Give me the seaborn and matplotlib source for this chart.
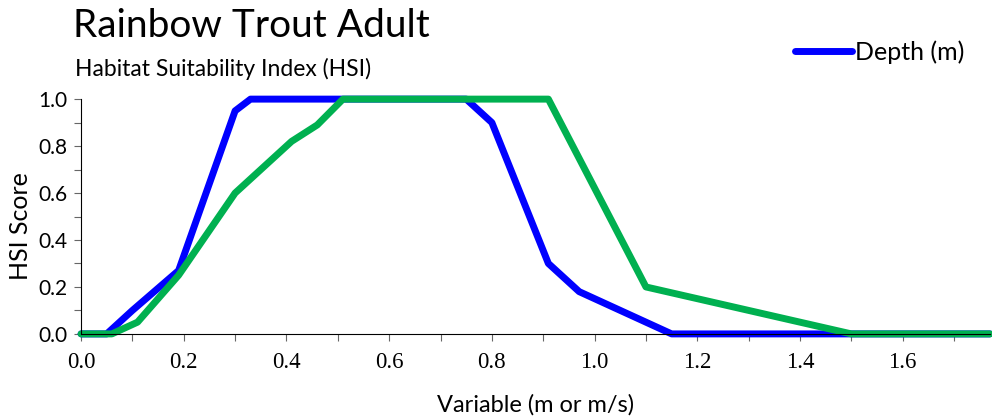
import numpy as np
import pandas as pd
import seaborn as sns
import matplotlib.pyplot as plt
from matplotlib.ticker import MultipleLocator

# HSI curves
depth_x = [0.0, 0.05, 0.10, 0.19, 0.30, 0.33, 0.75, 0.77, 0.80, 0.91, 0.97, 1.15, 1.77]
depth_y = [0.0, 0.0, 0.10, 0.27, 0.95, 1.0, 1.0, 0.96, 0.90, 0.30, 0.18, 0.0, 0.0]

vel_x = [0.0, 0.06, 0.11, 0.15, 0.19, 0.30, 0.41, 0.46, 0.51, 0.91, 1.10, 1.50, 1.77]
vel_y = [0.0, 0.0, 0.05, 0.15, 0.25, 0.60, 0.82, 0.89, 1.0, 1.0, 0.20, 0.0, 0.0]

df_depth = pd.DataFrame({"x": depth_x, "y": depth_y})
df_vel = pd.DataFrame({"x": vel_x, "y": vel_y})

sns.set_style("ticks")
plt.rcParams['font.family'] = ['Lato', 'DejaVu Sans']
plt.rcParams['text.color'] = 'black'
plt.rcParams['axes.labelcolor'] = 'black'
plt.rcParams['xtick.color'] = 'black'
plt.rcParams['ytick.color'] = 'black'

fig = plt.figure(figsize=(9.92, 4.2), dpi=100)
ax = fig.add_axes([0.0817, 0.205, 0.9163, 0.559])

sns.lineplot(data=df_depth, x="x", y="y", color="#0000FF", lw=5,
             sort=False, ax=ax, label="Depth (m)", clip_on=False,
             solid_joinstyle="round", solid_capstyle="round")
sns.lineplot(data=df_vel, x="x", y="y", color="#00B050", lw=5,
             sort=False, ax=ax, clip_on=False, solid_joinstyle="round")

ax.set_xlim(0, 1.77)
ax.set_ylim(0, 1.0)
ax.xaxis.set_major_locator(MultipleLocator(0.2))
ax.xaxis.set_minor_locator(MultipleLocator(0.1))
ax.yaxis.set_major_locator(MultipleLocator(0.2))
ax.yaxis.set_minor_locator(MultipleLocator(0.1))
ax.tick_params(which="both", length=5, width=0.8, color="#666666")
ax.tick_params(axis="y", labelsize=15, pad=5)
ax.tick_params(axis="x", labelsize=16.5, pad=8)
ax.set_xticklabels([f"{v:.1f}" for v in ax.get_xticks()], family="Liberation Serif")
ax.set_yticklabels([f"{v:.1f}" for v in ax.get_yticks()])
ax.set_xlim(0, 1.77)
ax.set_ylim(0, 1.0)

sns.despine(ax=ax)
ax.spines["left"].set_color("black")
ax.spines["bottom"].set_color("black")

ax.set_xlabel("Variable (m or m/s)", fontsize=17)
ax.set_ylabel("HSI Score", fontsize=18)
ax.xaxis.set_label_coords(0.5, -0.255)
ax.yaxis.set_label_coords(-0.054, 0.46)

fig.text(0.074, 0.938, "Rainbow Trout Adult", fontsize=28, va="center")
fig.text(0.076, 0.836, "Habitat Suitability Index (HSI)", fontsize=16.5, va="center")

ax.legend(loc="center left", bbox_to_anchor=(0.785, 1.2), frameon=False,
          fontsize=18, handlelength=2.3, handletextpad=0.1, borderaxespad=0,
          borderpad=0)

fig.savefig("out.png", dpi=100)
